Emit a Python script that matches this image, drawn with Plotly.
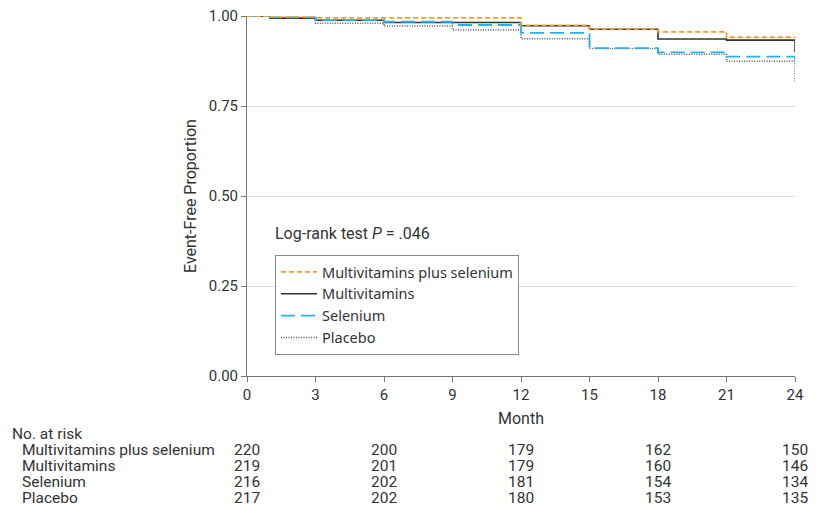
import plotly.graph_objects as go

# ---- data ----
series_names = ["Multivitamins plus selenium", "Multivitamins", "Selenium", "Placebo"]

mvse_t = [0, 1, 3, 12, 15, 18, 21, 24]
mvse_s = [1.0, 0.997, 0.995, 0.974, 0.963, 0.956, 0.941, 0.940]

mv_t = [0, 1, 3, 6, 12, 15, 18, 21, 24]
mv_s = [1.0, 0.994, 0.988, 0.982, 0.973, 0.963, 0.936, 0.933, 0.900]

se_t = [0, 1, 3, 6, 9, 12, 15, 18, 21, 24]
se_s = [1.0, 0.996, 0.988, 0.984, 0.975, 0.953, 0.911, 0.899, 0.887, 0.858]

pl_t = [0, 1, 3, 6, 9, 12, 15, 18, 21, 24]
pl_s = [1.0, 0.996, 0.980, 0.972, 0.961, 0.937, 0.910, 0.894, 0.874, 0.815]

x_ticks = [0, 3, 6, 9, 12, 15, 18, 21, 24]
y_ticks = [0.0, 0.25, 0.5, 0.75, 1.0]
y_tick_labels = ["0.00", "0.25", "0.50", "0.75", "1.00"]

risk_months = [0, 6, 12, 18, 24]
risk_mvse = [220, 200, 179, 162, 150]
risk_mv = [219, 201, 179, 160, 146]
risk_se = [216, 202, 181, 154, 134]
risk_pl = [217, 202, 180, 153, 135]

FONT = "Roboto, sans-serif"
LFONT = "Noto Sans, Roboto, sans-serif"
TXT = "#333333"

fig = go.Figure()

styles = {
    "Multivitamins plus selenium": dict(color="#F39A2E", width=1.8, dash="5px,3px"),
    "Multivitamins": dict(color="#333333", width=1.6, dash="solid"),
    "Selenium": dict(color="#27B2EA", width=1.8, dash="14px,6px"),
    "Placebo": dict(color="#555555", width=1.5, dash="1px,1.5px"),
}
data = {
    "Multivitamins plus selenium": (mvse_t, mvse_s, 1),
    "Multivitamins": (mv_t, mv_s, 2),
    "Selenium": (se_t, se_s, 3),
    "Placebo": (pl_t, pl_s, 4),
}
for name in ["Placebo", "Multivitamins", "Selenium", "Multivitamins plus selenium"]:
    t, s, rank = data[name]
    fig.add_trace(go.Scatter(
        x=t, y=s, mode="lines", name=name, line_shape="hv",
        line=styles[name], legendrank=rank, cliponaxis=False,
        hoverinfo="skip",
    ))

# plot area in page pixels: x 247..795, y 16..376 (page has 8px body margin)
PW, PH = 548.0, 360.0
def px(xp):
    return (xp - 247) / PW
def py(yp):
    return (376 - yp) / PH

def txt(text, x, y, xref="paper", xanchor="left", size=16, **kw):
    d = dict(text=text, xref=xref, yref="paper", x=x, y=y, xanchor=xanchor,
             yanchor="middle", showarrow=False, borderpad=0,
             font=dict(size=size, color=TXT, family=FONT))
    d.update(kw)
    return d

ann = []
ann.append(txt("Event-Free Proportion", px(190), 0.5, xanchor="center", textangle=-90))
ann.append(txt("Month", 0.5, py(418), xanchor="center"))
ann.append(txt("Log-rank test <i>P</i> = .046", px(274), py(233)))
ann.append(txt("No. at risk", px(11), py(434), size=15.5))
row_y = [py(450), py(466), py(482), py(498)]
rows = [risk_mvse, risk_mv, risk_se, risk_pl]
for name, vals, yy in zip(series_names, rows, row_y):
    ann.append(txt(name, px(21), yy, size=15.5))
    for m, v in zip(risk_months, vals):
        ann.append(txt(str(v), m, yy, xref="x", xanchor="center", size=15.5))

fig.update_layout(
    width=808, height=502,
    margin=dict(l=239, r=21, t=8, b=134, autoexpand=False),
    paper_bgcolor="white", plot_bgcolor="white",
    font=dict(family=FONT, size=15, color=TXT),
    showlegend=True,
    legend=dict(x=px(275), y=py(255), xanchor="left", yanchor="top",
                bordercolor="#888888", borderwidth=1, bgcolor="white",
                font=dict(size=14.5, color=TXT, family=LFONT),
                tracegroupgap=0, itemwidth=36),
    annotations=ann,
    xaxis=dict(range=[0, 24], tickvals=x_ticks, ticks="outside", ticklen=5,
               tickcolor="#777777", showline=True, linecolor="#777777", linewidth=1,
               showgrid=False, zeroline=False, fixedrange=True, automargin=False,
               ticklabeloverflow="allow",
               tickfont=dict(size=15, color=TXT, family=FONT)),
    yaxis=dict(range=[0, 1.0], tickvals=y_ticks, ticktext=y_tick_labels, ticks="outside",
               ticklen=5, tickcolor="#777777", showline=True, linecolor="#777777",
               linewidth=1, showgrid=True, gridcolor="#dddddd", gridwidth=1,
               zeroline=False, fixedrange=True, automargin=False,
               ticklabeloverflow="allow",
               tickfont=dict(size=15, color=TXT, family=FONT)),
)

fig.write_html("out.html")
